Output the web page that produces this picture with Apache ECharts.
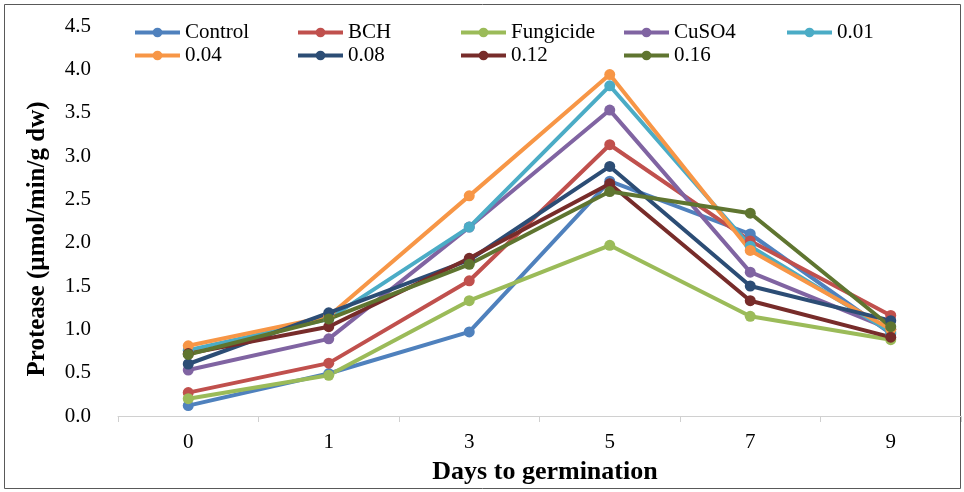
<!DOCTYPE html>
<html>
<head>
<meta charset="utf-8">
<script src="https://cdn.jsdelivr.net/npm/echarts@6/dist/echarts.min.js"></script>
<style>html,body{margin:0;padding:0;background:#fff}#c{width:964px;height:492px}</style>
</head>
<body>
<div id="c"></div>
<script>
var days = ['0', '1', '3', '5', '7', '9'];
var yTicks = [0, 0.5, 1, 1.5, 2, 2.5, 3, 3.5, 4, 4.5];
var seriesNames = ['Control', 'BCH', 'Fungicide', 'CuSO4', '0.01', '0.04', '0.08', '0.12', '0.16'];
var control   = [0.12, 0.49, 0.97, 2.71, 2.10, 0.95];
var bch       = [0.27, 0.61, 1.56, 3.13, 2.02, 1.16];
var fungicide = [0.20, 0.47, 1.33, 1.97, 1.15, 0.88];
var cuso4     = [0.53, 0.89, 2.18, 3.53, 1.66, 1.00];
var c001      = [0.76, 1.12, 2.18, 3.81, 1.96, 0.97];
var c004      = [0.81, 1.15, 2.54, 3.94, 1.91, 1.00];
var c008      = [0.60, 1.19, 1.80, 2.88, 1.50, 1.10];
var c012      = [0.72, 1.03, 1.82, 2.68, 1.33, 0.91];
var c016      = [0.71, 1.12, 1.75, 2.59, 2.34, 1.03];
var colors = ['#4F81BD', '#C0504D', '#9BBB59', '#8064A2', '#4BACC6', '#F79646', '#2C4D75', '#772C2A', '#5F7530'];
var allData = [control, bch, fungicide, cuso4, c001, c004, c008, c012, c016];

var chart = echarts.init(document.getElementById('c'));
var font = '"Liberation Serif", serif';
chart.setOption({
  animation: false,
  color: colors,
  textStyle: {fontFamily: font},
  grid: {left: 118, right: 3, top: 26, bottom: 76, containLabel: false},
  legend: {
    left: 128, top: 17, width: 828,
    itemGap: 2, itemWidth: 45, itemHeight: 12,
    data: seriesNames,
    lineStyle: {width: 4},
    formatter: function (name) { return '{a|' + name + '}'; },
    textStyle: {
      fontFamily: font, fontSize: 21, color: '#000',
      rich: {a: {fontFamily: font, fontSize: 21, color: '#000', width: 109, lineHeight: 24}}
    }
  },
  xAxis: {
    type: 'category', data: days, boundaryGap: true,
    axisLine: {lineStyle: {color: '#d0d0d0', width: 1}},
    axisTick: {show: true, length: 6, lineStyle: {color: '#d0d0d0'}},
    axisLabel: {fontFamily: font, fontSize: 21, color: '#000', margin: 16}
  },
  yAxis: {
    type: 'value', min: yTicks[0], max: yTicks[yTicks.length - 1], interval: 0.5,
    axisLine: {show: false}, axisTick: {show: false}, splitLine: {show: false},
    axisLabel: {fontFamily: font, fontSize: 21, color: '#000', margin: 27, formatter: function (v) { return v.toFixed(1); }}
  },
  graphic: [
    {type: 'rect', shape: {x: 4.5, y: 4.5, width: 956, height: 484}, style: {fill: 'none', stroke: '#595959', lineWidth: 1}, silent: true, z: -1},
    {type: 'text', x: 38, y: 239, rotation: Math.PI / 2,
     style: {text: 'Protease (µmol/min/g dw)', fontFamily: font, fontSize: 25, fontWeight: 'bold', fill: '#000', align: 'center', verticalAlign: 'middle'}},
    {type: 'text', x: 545, y: 472,
     style: {text: 'Days to germination', fontFamily: font, fontSize: 26, fontWeight: 'bold', fill: '#000', align: 'center', verticalAlign: 'middle'}}
  ],
  series: seriesNames.map(function (n, i) {
    return {
      name: n, type: 'line', data: allData[i],
      symbol: 'circle', symbolSize: 11,
      lineStyle: {width: 4, color: colors[i]},
      itemStyle: {color: colors[i]}
    };
  })
});
</script>
</body>
</html>
